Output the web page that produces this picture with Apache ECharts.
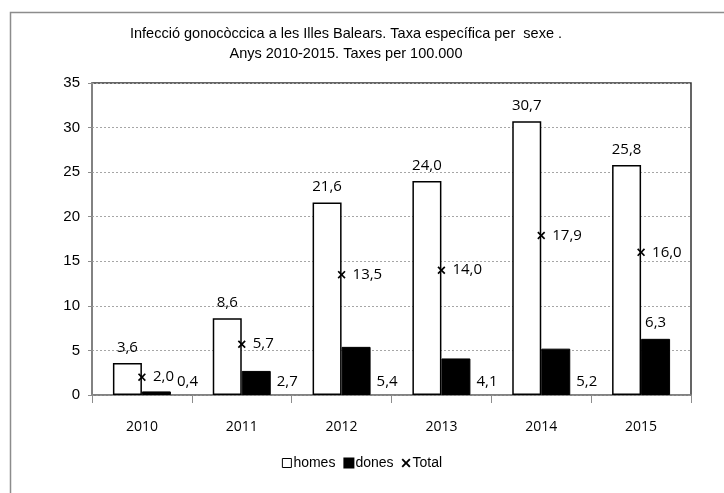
<!DOCTYPE html>
<html>
<head>
<meta charset="utf-8">
<script src="https://cdn.jsdelivr.net/npm/echarts@6/dist/echarts.min.js"></script>
<style>html,body{margin:0;padding:0;background:#fff}#c{width:724px;height:493px}</style>
</head>
<body>
<div id="c"></div>
<script>
var categories = ['2010', '2011', '2012', '2013', '2014', '2015'];
var homes = [3.6, 8.6, 21.6, 24.0, 30.7, 25.8];
var dones = [0.4, 2.7, 5.4, 4.1, 5.2, 6.3];
var total = [2.0, 5.7, 13.5, 14.0, 17.9, 16.0];
var yTicks = [0, 5, 10, 15, 20, 25, 30, 35];

function fmt(v) { return v.toFixed(1).replace('.', ','); }
var labelFont = { fontFamily: 'Open Sans', fontSize: 15, color: '#000' };
var xPath = 'path://M0,1.5L1.5,0L5,3.5L8.5,0L10,1.5L6.5,5L10,8.5L8.5,10L5,6.5L1.5,10L0,8.5L3.5,5Z';

var donesData = dones.map(function (v, i) {
  var item = { value: v };
  if (i === 5) {
    item.label = { position: 'top', distance: 9 };
  } else {
    item.label = { position: ['100%', '100%'], offset: [6, -21], align: 'left', verticalAlign: 'top' };
  }
  return item;
});

var chart = echarts.init(document.getElementById('c'));
chart.setOption({
  animation: false,
  backgroundColor: '#fff',
  graphic: [{
    type: 'rect', left: 8, top: 10, z: -10,
    shape: { width: 900, height: 700 },
    style: { fill: 'none', stroke: '#8c8c8c', lineWidth: 1.5 }
  }],
  title: {
    text: 'Infecció gonocòccica a les Illes Balears. Taxa específica per  sexe .\nAnys 2010-2015. Taxes per 100.000',
    left: 341, top: 19, textAlign: 'center',
    textStyle: { fontFamily: 'Liberation Sans', fontSize: 14.5, fontWeight: 'normal', color: '#000', lineHeight: 20 }
  },
  legend: {
    bottom: 18, left: 'center',
    itemWidth: 9, itemHeight: 9, itemGap: 8,
    textStyle: { fontFamily: 'Liberation Sans', fontSize: 14, color: '#000', padding: [0, 0, 0, -3] },
    data: [
      { name: 'homes', icon: 'rect', itemStyle: { color: '#fff', borderColor: '#000', borderWidth: 1 } },
      { name: 'dones', icon: 'rect' },
      { name: 'Total', icon: xPath }
    ]
  },
  grid: {
    left: 92, top: 83, right: 33, bottom: 98,
    show: true, borderColor: '#333', borderWidth: 1.5, backgroundColor: 'transparent'
  },
  xAxis: {
    type: 'category', data: categories,
    axisLine: { lineStyle: { color: '#8c8c8c', width: 1.5 } },
    axisTick: { show: true, length: 8, lineStyle: { color: '#8c8c8c' } },
    axisLabel: { fontFamily: 'Open Sans', fontSize: 14, color: '#000', margin: 25 }
  },
  yAxis: {
    type: 'value', min: 0, max: 35, interval: 5,
    axisLine: { show: true, lineStyle: { color: '#8c8c8c', width: 1.5 } },
    axisTick: { show: true, length: 4, lineStyle: { color: '#8c8c8c' } },
    axisLabel: { fontFamily: 'Liberation Sans', fontSize: 15, color: '#000', margin: 12,
      formatter: function (v) { return yTicks.indexOf(v) >= 0 ? String(v) : ''; } },
    splitLine: { lineStyle: { color: '#a6a6a6', type: [2, 2], width: 1 } }
  },
  series: [
    {
      name: 'homes', type: 'bar', data: homes, barWidth: 29, barGap: '0%',
      itemStyle: { color: '#fff', borderColor: '#000', borderWidth: 1.5 },
      label: Object.assign({ show: true, position: 'top', distance: 8, formatter: function (p) { return fmt(p.value); } }, labelFont)
    },
    {
      name: 'dones', type: 'bar', data: donesData, barWidth: 29,
      itemStyle: { color: '#000', borderColor: '#000', borderWidth: 1 },
      label: Object.assign({ show: true, formatter: function (p) { return fmt(p.value); } }, labelFont)
    },
    {
      name: 'Total', type: 'scatter', data: total, symbol: xPath, symbolSize: 8, z: 5,
      itemStyle: { color: '#000', opacity: 1 },
      label: Object.assign({ show: true, position: 'right', distance: 7, formatter: function (p) { return fmt(p.value); } }, labelFont)
    }
  ]
});
</script>
</body>
</html>
